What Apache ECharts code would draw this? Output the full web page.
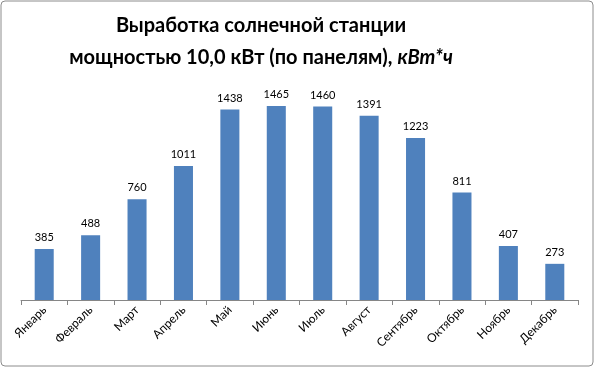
<!DOCTYPE html>
<html><head><meta charset="utf-8">
<script src="https://cdn.jsdelivr.net/npm/echarts@6/dist/echarts.min.js"></script>
<style>html,body{margin:0;padding:0;background:#fff}#c{width:595px;height:368px}</style>
</head><body><div id="c"></div>
<script>
const categories = ['Январь','Февраль','Март','Апрель','Май','Июнь','Июль','Август','Сентябрь','Октябрь','Ноябрь','Декабрь'];
const values = [385,488,760,1011,1438,1465,1460,1391,1223,811,407,273];
const chart = echarts.init(document.getElementById('c'));
chart.setOption({
  animation:false,
  graphic:[{type:'rect',shape:{x:1,y:1,width:592,height:365,r:4},style:{fill:'none',stroke:'#8c8c8c',lineWidth:1}}],
  title:{
    text:'{a|Выработка солнечной станции}\n{a|мощностью 10,0 кВт (по панелям), }{b|кВт*ч}',
    left:256,top:5,textAlign:'center',
    textStyle:{rich:{
      a:{fontFamily:'Lato',fontWeight:'bold',fontSize:20,color:'#000',lineHeight:32},
      b:{fontFamily:'Lato',fontWeight:'bold',fontStyle:'italic',fontSize:20,color:'#000',lineHeight:32}
    }}
  },
  grid:{left:21,right:17,top:88,bottom:68},
  xAxis:{type:'category',data:categories,
    axisLine:{lineStyle:{color:'#868686'}},
    axisTick:{show:true,length:5,lineStyle:{color:'#868686'}},
    axisLabel:{rotate:45,interval:0,fontFamily:'Lato',fontSize:12,color:'#000',margin:8}
  },
  yAxis:{type:'value',min:0,max:1600,show:false,splitLine:{show:false}},
  series:[{type:'bar',data:values,barWidth:'41%',
    itemStyle:{color:'#4F81BD'},
    label:{show:true,position:'top',distance:6,fontFamily:'Lato',fontSize:11,color:'#000'}
  }]
});
</script></body></html>
